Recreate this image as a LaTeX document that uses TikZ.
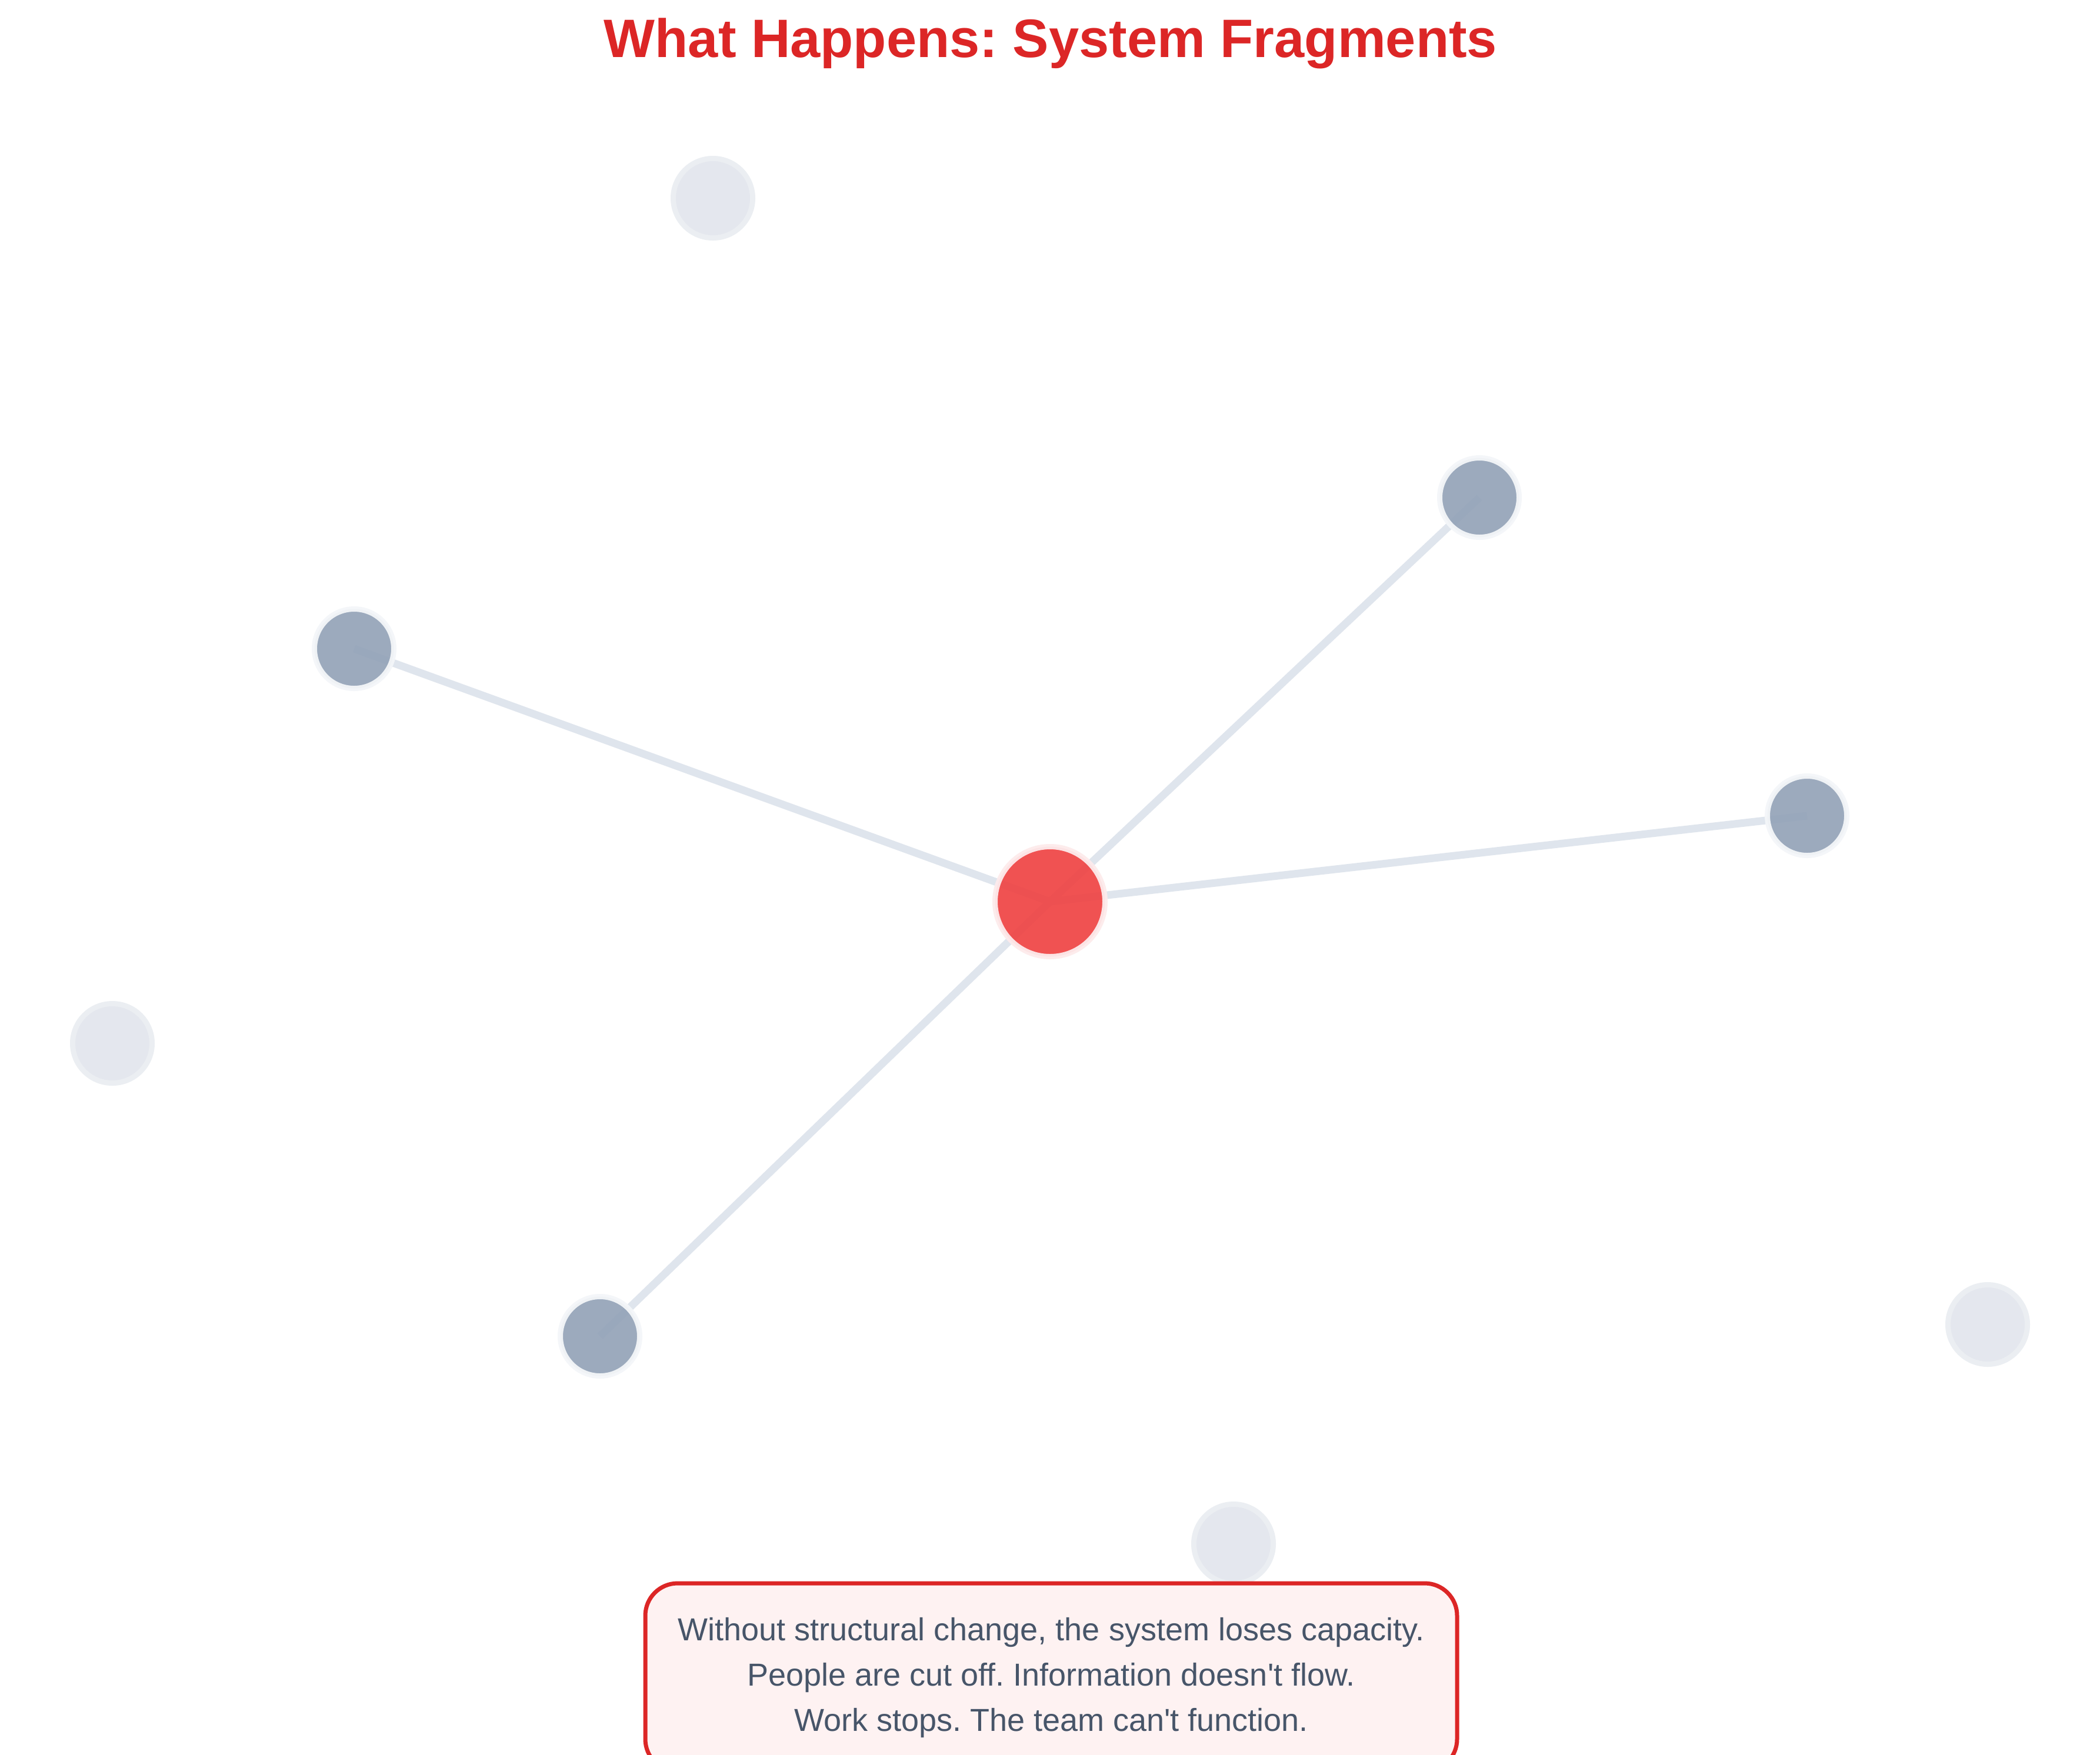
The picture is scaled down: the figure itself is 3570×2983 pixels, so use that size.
\documentclass[tikz,border=0pt]{standalone}
\usepackage{fontspec}
\setmainfont{Liberation Sans}
\usetikzlibrary{backgrounds}
\definecolor{titlered}{HTML}{DC2626}
\definecolor{boxfill}{HTML}{FEF2F2}
\definecolor{bodytext}{HTML}{475569}
\definecolor{edgecol}{HTML}{DFE5ED}
\definecolor{hubfill}{HTML}{EF4444}
\definecolor{hubring}{HTML}{FDEBEC}
\definecolor{slatefill}{HTML}{94A3B8}
\definecolor{slatering}{HTML}{F4F6F9}
\definecolor{faintfill}{HTML}{E4E7EE}
\definecolor{faintring}{HTML}{EBEEF2}
\frenchspacing
\begin{document}
\begin{tikzpicture}[x=1pt,y=-1pt,
  hub/.style={circle,inner sep=0pt,minimum size=187pt,fill=hubfill,fill opacity=0.92,draw=hubring,draw opacity=0.95,line width=9pt},
  member/.style={circle,inner sep=0pt,minimum size=135pt,fill=slatefill,fill opacity=0.92,draw=slatering,draw opacity=0.95,line width=9pt},
  lost/.style={circle,inner sep=0pt,minimum size=135pt,fill=faintfill,draw=faintring,line width=9pt},
  link/.style={draw=edgecol,line width=13pt},
  msgbox/.style={draw=titlered,line width=7pt,fill=boxfill,rounded corners=55pt,minimum width=1380pt,minimum height=320pt,inner sep=0pt,align=center,text=bodytext,font=\fontsize{54}{77}\selectfont}
]
\useasboundingbox (0,0) rectangle (3570,2983);
\clip (0,0) rectangle (3570,2983);

\node[anchor=base,text=titlered,font=\fontsize{92}{100}\selectfont\bfseries,inner sep=0pt] (title) at (1786,97) {What Happens: System Fragments};

\node[hub] (c) at (1785,1533) {};
\node[member] (s1) at (602,1103) {};
\node[member] (s2) at (2515,846) {};
\node[member] (s3) at (3072,1387) {};
\node[member] (s4) at (1020,2272) {};
\node[lost] (f1) at (1212,337) {};
\node[lost] (f2) at (191,1774) {};
\node[lost] (f3) at (3379,2252) {};
\node[lost] (f4) at (2097,2625) {};

\begin{scope}[on background layer]
\fill[white] (0,0) rectangle (3570,2983);
\draw[link] (c.center) -- (s1.center);
\draw[link] (c.center) -- (s2.center);
\draw[link] (c.center) -- (s3.center);
\draw[link] (c.center) -- (s4.center);
\end{scope}

\node[msgbox] (msg) at (1787,2852) {Without structural change, the system loses capacity.\\People are cut off. Information doesn\textquotesingle t flow.\\Work stops. The team can\textquotesingle t function.};
\end{tikzpicture}
\end{document}
